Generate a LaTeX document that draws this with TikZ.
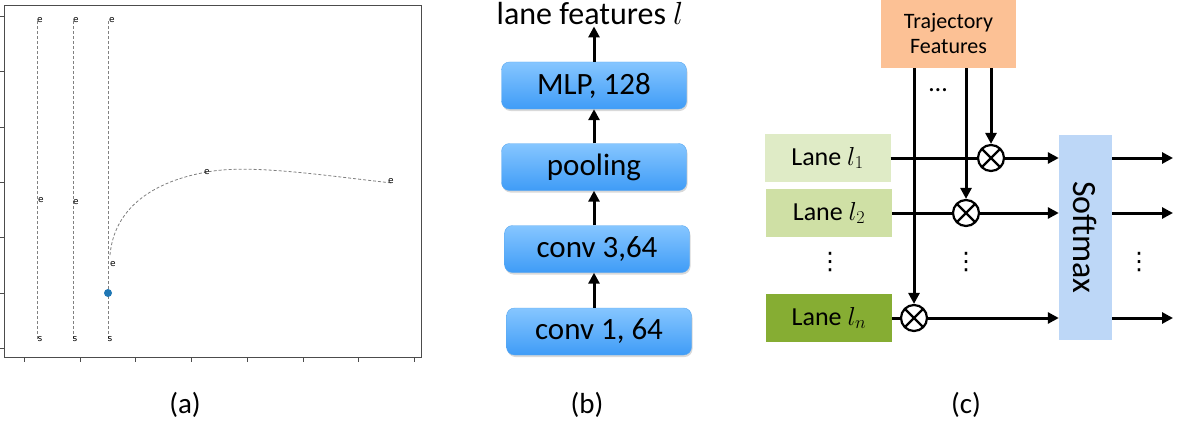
\RequirePackage{fix-cm}
\documentclass[tikz,border=0pt]{standalone}
\usepackage{fontspec}
\setmainfont{Carlito}
\newfontfamily\plotfont{DejaVu Sans}
\usetikzlibrary{arrows.meta,shadows}

\definecolor{laneA}{HTML}{DFEBC6}
\definecolor{laneB}{HTML}{CFE0A5}
\definecolor{laneN}{HTML}{86AD33}
\definecolor{trajcol}{HTML}{FCC195}
\definecolor{smaxcol}{HTML}{BDD7F7}
\definecolor{layertop}{HTML}{86C6FF}
\definecolor{layerbot}{HTML}{3F9CF7}
\definecolor{layerline}{HTML}{5AA8F0}
\definecolor{ptblue}{HTML}{1F77B4}

\tikzset{
  axis/.style={draw=black!70, line width=0.8pt},
  lanepath/.style={draw=black!50, line width=0.8pt, dash pattern=on 3pt off 2pt},
  tag/.style={font=\plotfont\fontsize{9}{10}\selectfont, inner sep=0pt},
  layer/.style={draw=layerline, rounded corners=8pt, top color=layertop,
    bottom color=layerbot, minimum width=185pt, minimum height=47pt,
    font=\fontsize{31}{36}\selectfont,
    drop shadow={shadow xshift=1pt, shadow yshift=-2pt, opacity=.3}},
  lane/.style={minimum width=126pt, minimum height=48pt, inner sep=0pt,
    font=\fontsize{26}{30}\selectfont},
  prod/.style={circle, draw, line width=2.2pt, minimum size=26pt, inner sep=0pt,
    path picture={\draw[line width=2.2pt]
      (path picture bounding box.north west) -- (path picture bounding box.south east)
      (path picture bounding box.north east) -- (path picture bounding box.south west);}},
  arr/.style={-{Triangle[length=11pt,width=11pt]}, line width=3pt},
  link/.style={line width=3pt},
  vdot/.style={font=\plotfont\fontsize{24}{26}\selectfont, inner sep=0pt},
  caption/.style={font=\fontsize{29}{34}\selectfont}
}

\begin{document}
\begin{tikzpicture}[x=1pt,y=-1pt]
  \useasboundingbox (0,0) rectangle (1177,428);

  % (a) lane map
  \draw[axis] (4,5) rectangle (421,357);
  \draw[axis]
    (0,16) -- (4,16) (0,71) -- (4,71) (0,127) -- (4,127) (0,182) -- (4,182)
    (0,237) -- (4,237) (0,293) -- (4,293) (0,348) -- (4,348);
  \draw[axis]
    (24,357) -- (24,362) (80,357) -- (80,362) (135,357) -- (135,362)
    (191,357) -- (191,362) (247,357) -- (247,362) (303,357) -- (303,362)
    (358,357) -- (358,362) (414,357) -- (414,362);
  \draw[lanepath] (37,339) -- (37,20);
  \draw[lanepath] (73,339) -- (73,20);
  \draw[lanepath] (108,339) -- (108,20);
  \draw[lanepath] (110,255) .. controls (114,210) and (150,182) .. (207,172)
    .. controls (250,164) and (320,175) .. (392,183);
  \fill[ptblue] (108,293) circle (4);
  \draw
    (40,20) node[tag] (e1){e}
    (76,20) node[tag] (e2){e}
    (112,20) node[tag] (e3){e}
    (41,200) node[tag] (e4){e}
    (76,202) node[tag] (e5){e}
    (113,264) node[tag] (e6){e}
    (207,172) node[tag] (e7){e}
    (391,181) node[tag] (e8){e}
    (40,339) node[tag] (s1){s}
    (75,339) node[tag] (s2){s}
    (110,339) node[tag] (s3){s};

  % (b) lane feature network
  \node[layer] (mlp) at (594,85.5) {MLP, 128};
  \node[layer] (pool) at (594,167) {pooling};
  \node[layer] (conv3) at (597,249) {conv 3,64};
  \node[layer] (conv1) at (599,331.5) {conv 1, 64};
  \node[anchor=base, font=\fontsize{32}{38}\selectfont, inner sep=1pt]
    (lf) at (590,25) {lane features $l$};
  \begin{scope}[arr]
    \draw (conv1.north -| mlp) to (conv3.south -| mlp);
    \draw (conv3.north -| mlp) to (pool.south);
    \draw (pool.north) to (mlp.south);
    \draw (mlp.north) to (lf.south -| mlp);
  \end{scope}

  % (c) attention over lanes
  \node[fill=trajcol, minimum width=135pt, minimum height=68pt, align=center,
    font=\fontsize{22}{25}\selectfont] (tf) at (948.5,34) {Trajectory\\Features};
  \node[lane, fill=laneA] (l1) at (827.5,158) {Lane $l_1$};
  \node[lane, fill=laneB] (l2) at (829,213) {Lane $l_2$};
  \node[lane, fill=laneN] (ln) at (829,318) {Lane $l_n$};
  \node[fill=smaxcol, minimum width=53pt, minimum height=205pt, inner sep=0pt,
    font=\fontsize{34}{40}\selectfont] (sm) at (1085.5,237.5) {\rotatebox{-90}{Softmax}};
  \node[prod] (m1) at (991,158) {};
  \node[prod] (m2) at (966,213) {};
  \node[prod] (mn) at (914,318) {};
  \coordinate (o1) at (1173,158);
  \coordinate (o2) at (1173,213);
  \coordinate (on) at (1173,318);
  \begin{scope}[link]
    \draw (l1.east) to (m1.west);
    \draw (l2.east) to (m2.west);
    \draw (ln.east) to (mn.west);
  \end{scope}
  \begin{scope}[arr]
    \draw (mn |- tf.south) to (mn.north);
    \draw (m2 |- tf.south) to (m2.north);
    \draw (m1 |- tf.south) to (m1.north);
    \draw (m1.east) to (m1 -| sm.west);
    \draw (m2.east) to (m2 -| sm.west);
    \draw (mn.east) to (mn -| sm.west);
    \draw (sm.east |- o1) to (o1);
    \draw (sm.east |- o2) to (o2);
    \draw (sm.east |- on) to (on);
  \end{scope}
  \node[font=\fontsize{26}{28}\selectfont, inner sep=0pt] (hdots) at (938,90) {…};
  \node[vdot] (vd1) at (830,262) {⋮};
  \node[vdot] (vd2) at (966,262) {⋮};
  \node[vdot] (vd3) at (1139,262) {⋮};

  % captions
  \node[caption] (capa) at (185,405) {(a)};
  \node[caption] (capb) at (587,405) {(b)};
  \node[caption] (capc) at (966,405) {(c)};
\end{tikzpicture}
\end{document}
